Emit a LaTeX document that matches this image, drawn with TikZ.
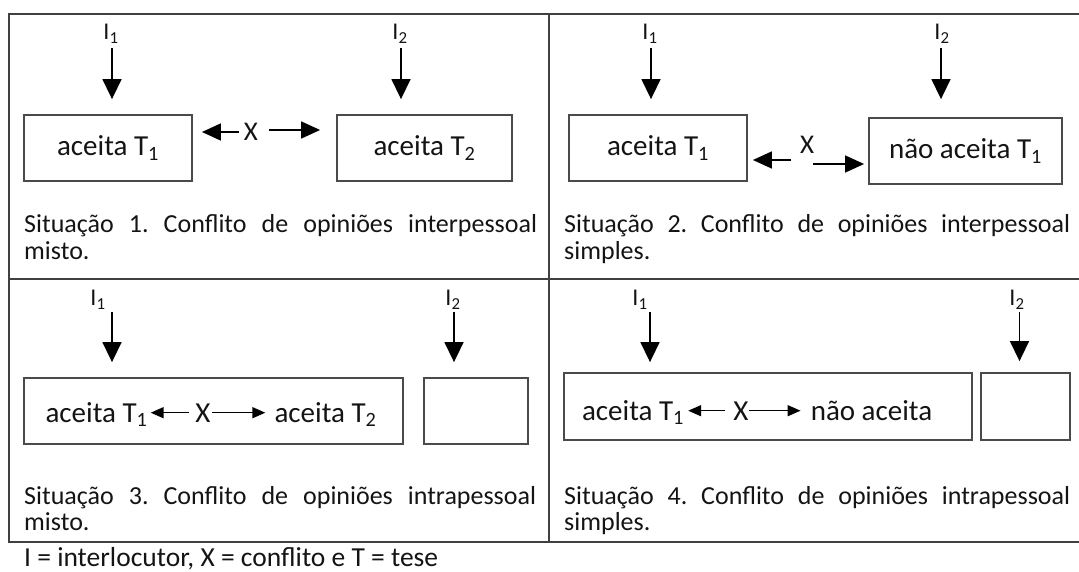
\documentclass[tikz,border=0pt]{standalone}
\usepackage{fontspec}
\setmainfont{Carlito}
\usetikzlibrary{arrows.meta}
\definecolor{framecol}{HTML}{404040}
\definecolor{boxcol}{HTML}{4A4A4A}
\definecolor{txt}{HTML}{141414}
\frenchspacing
\tikzset{
  frame/.style={draw=framecol, line width=1.5pt},
  tbox/.style={draw=boxcol, line width=1.8pt, inner sep=0pt, text=txt, font=\fontsize{29}{34}\selectfont},
  emptybox/.style={draw=boxcol, line width=1.8pt, inner sep=0pt},
  lbl/.style={inner sep=0pt, text=txt, font=\fontsize{24}{28}\selectfont},
  xlbl/.style={inner sep=0pt, text=txt, font=\fontsize{27}{30}\selectfont},
  intext/.style={inner sep=0pt, anchor=base, text=txt, font=\fontsize{29}{34}\selectfont},
  captxt/.style={inner sep=0pt, anchor=base west, text=txt, font=\fontsize{26}{30}\selectfont},
  legtxt/.style={inner sep=0pt, anchor=base west, text=txt, font=\fontsize{27.5}{31}\selectfont},
  varr/.style={line width=1.5pt, -{Triangle[length=20pt,width=19pt]}},
  harr/.style={line width=1.5pt, -{Triangle[length=19pt,width=17pt]}},
  iarr/.style={line width=1.5pt, -{Triangle[length=13pt,width=11pt]}}
}
\begin{document}
\begin{tikzpicture}[x=1pt,y=-1pt]
\useasboundingbox (0,0) rectangle (1079,572);
% table frame
\draw[frame] (1079,14) -- (9,14) -- (9,542) -- (1079,542);
\draw[frame] (9,279) -- (1079,279);
\draw[frame] (549,14) -- (549,542);

% ---------- Situation 1 ----------
\node[tbox, minimum width=168pt, minimum height=66pt] (a1) at (108,148) {aceita T\textsubscript{1}};
\node[tbox, minimum width=175pt, minimum height=66pt] (a2) at (424.5,148) {aceita T\textsubscript{2}};
\node[lbl] (i11) at (111,34) {I\textsubscript{1}};
\node[lbl] (i12) at (400,34) {I\textsubscript{2}};
\coordinate (s11) at (112,48);
\coordinate (s12) at (401,48);
\draw[varr, shorten >=15pt] (s11) -- (s11 |- a1.north);
\draw[varr, shorten >=15pt] (s12) -- (s12 |- a2.north);
\node[xlbl] (x1) at (251,132) {X};
\draw[harr, shorten <=5pt, shorten >=9pt] (x1.west) -- (x1.west -| a1.east);
\draw[harr, shorten <=11pt, shorten >=16pt] ([yshift=2pt]x1.east) -- ([yshift=2pt]x1.east -| a2.west);
\node[captxt] (c1a) at (24,233) {\makebox[513pt][s]{Situação 1. Conflito de opiniões interpessoal}};
\node[captxt] (c1b) at (24,259) {misto.};

% ---------- Situation 2 ----------
\node[tbox, minimum width=178pt, minimum height=66pt] (b1) at (658,148) {aceita T\textsubscript{1}};
\node[tbox, minimum width=193pt, minimum height=66pt] (b2) at (965.5,151) {não aceita T\textsubscript{1}};
\node[lbl] (i21) at (650,34) {I\textsubscript{1}};
\node[lbl] (i22) at (942,34) {I\textsubscript{2}};
\coordinate (s21) at (651,48);
\coordinate (s22) at (941,48);
\draw[varr, shorten >=15pt] (s21) -- (s21 |- b1.north);
\draw[varr, shorten >=18pt] (s22) -- (s22 |- b2.north);
\node[xlbl] (x2) at (807,145) {X};
\coordinate (x2l) at (791,160);
\coordinate (x2r) at (813,164);
\draw[harr, shorten >=5pt] (x2l) -- (x2l -| b1.east);
\draw[harr, shorten >=4pt] (x2r) -- (x2r -| b2.west);
\node[captxt] (c2a) at (564,233) {\makebox[506pt][s]{Situação 2. Conflito de opiniões interpessoal}};
\node[captxt] (c2b) at (564,259) {simples.};

% ---------- Situation 3 ----------
\node[emptybox, minimum width=379pt, minimum height=66pt] (c1) at (213.5,411) {};
\node[emptybox, minimum width=104pt, minimum height=66pt] (c2) at (476,411) {};
\node[lbl] (i31) at (98,300) {I\textsubscript{1}};
\node[lbl] (i32) at (453,300) {I\textsubscript{2}};
\coordinate (s31) at (112,312);
\coordinate (s32) at (454,312);
\draw[varr, shorten >=15pt] (s31) -- (s31 |- c1.north);
\draw[varr, shorten >=15pt] (s32) -- (s32 |- c2.north);
\node[intext] (t31) at (96.5,422) {aceita T\textsubscript{1}};
\node[intext] (x3) at (203,422) {X};
\node[intext] (t32) at (325.5,422) {aceita T\textsubscript{2}};
\draw[iarr, shorten <=6pt, shorten >=3pt] (x3.west) -- (x3.west -| t31.east);
\draw[iarr, shorten <=1.5pt, shorten >=9pt] (x3.east) -- (x3.east -| t32.west);
\node[captxt] (c3a) at (24,504) {\makebox[512pt][s]{Situação 3. Conflito de opiniões intrapessoal}};
\node[captxt] (c3b) at (24,530) {misto.};

% ---------- Situation 4 ----------
\node[emptybox, minimum width=408pt, minimum height=67pt] (d1) at (768,406.5) {};
\node[emptybox, minimum width=89pt, minimum height=67pt] (d2) at (1025.5,406.5) {};
\node[lbl] (i41) at (640,300) {I\textsubscript{1}};
\node[lbl] (i42) at (1017,300) {I\textsubscript{2}};
\coordinate (s41) at (650,312);
\coordinate (s42) at (1019.5,312);
\draw[varr, shorten >=10pt] (s41) -- (s41 |- d1.north);
\draw[varr, shorten >=11pt] (s42) -- (s42 |- d2.north);
\node[intext] (t41) at (633,420) {aceita T\textsubscript{1}};
\node[intext] (x4) at (741,420) {X};
\node[intext] (t42) at (871.5,420) {não aceita};
\draw[iarr, shorten <=8pt, shorten >=4pt] (x4.west) -- (x4.west -| t41.east);
\draw[iarr, shorten <=0.5pt, shorten >=10pt] (x4.east) -- (x4.east -| t42.west);
\node[captxt] (c4a) at (564,504) {\makebox[506pt][s]{Situação 4. Conflito de opiniões intrapessoal}};
\node[captxt] (c4b) at (564,530) {simples.};

% legend
\node[legtxt] (leg) at (24,566) {I = interlocutor, X = conflito e T = tese};
\end{tikzpicture}
\end{document}
